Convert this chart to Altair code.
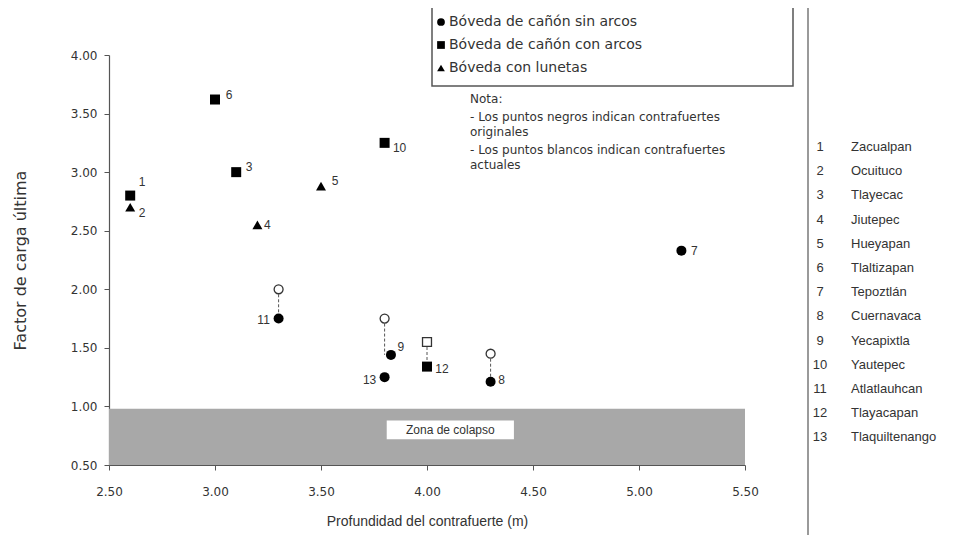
import altair as alt
import pandas as pd

# ---- data ----
ids = [1, 2, 3, 4, 5, 6, 7, 8, 9, 10, 11, 12, 13]
names = ["Zacualpan", "Ocuituco", "Tlayecac", "Jiutepec", "Hueyapan", "Tlaltizapan",
         "Tepoztlán", "Cuernavaca", "Yecapixtla", "Yautepec", "Atlatlauhcan",
         "Tlayacapan", "Tlaquiltenango"]
tipo_names = ["Bóveda de cañón sin arcos", "Bóveda de cañón con arcos", "Bóveda con lunetas"]
tipos = [1, 2, 1, 2, 2, 1, 0, 0, 0, 1, 0, 1, 0]
x_orig = [2.60, 2.60, 3.10, 3.20, 3.50, 3.00, 5.20, 4.30, 3.83, 3.80, 3.30, 4.00, 3.80]
y_orig = [2.80, 2.70, 3.00, 2.55, 2.88, 3.62, 2.33, 1.21, 1.44, 3.25, 1.75, 1.34, 1.25]

act_ids = [8, 9, 11, 12]
x_act = [4.30, 3.80, 3.30, 4.00]
y_act = [1.45, 1.75, 2.00, 1.55]

label_dx = [12, 12, 13, 10, 14, 14, 13, 11, 10, 15, -15, 15, -15]
label_dy = [-14, 6, -5, 0, -5, -5, 0, -2, -8, 5, 1, 2, 3]

nota_lines = ["Nota:", "- Los puntos negros indican contrafuertes", "  originales",
              "- Los puntos blancos indican contrafuertes", "  actuales"]

x_ticks = [2.5, 3.0, 3.5, 4.0, 4.5, 5.0, 5.5]
y_ticks = [0.5, 1.0, 1.5, 2.0, 2.5, 3.0, 3.5, 4.0]

# ---- layout ----
W, H = 636, 410
X0, X1, Y0, Y1 = 2.5, 5.5, 0.5, 4.0
FONT = "Liberation Sans"
WIDE = "DejaVu Sans"
TXT = "#333333"

df = pd.DataFrame({"id": ids, "x": x_orig, "y": y_orig,
                   "tipo": [tipo_names[t] for t in tipos]})
df["lbl"] = df["id"].astype(str)
df["lx"] = df["x"] + pd.Series(label_dx) * (X1 - X0) / W
df["ly"] = df["y"] - pd.Series(label_dy) * (Y1 - Y0) / H

tipo_by_id = dict(zip(ids, [tipo_names[t] for t in tipos]))
yorig_by_id = dict(zip(ids, y_orig))
dfa = pd.DataFrame({"id": act_ids, "x": x_act, "y": y_act,
                    "tipo": [tipo_by_id[i] for i in act_ids],
                    "y0": [yorig_by_id[i] for i in act_ids]})

xs = alt.Scale(domain=[X0, X1], nice=False, zero=False)
ys = alt.Scale(domain=[Y0, Y1], nice=False, zero=False)
shape_scale = alt.Scale(domain=tipo_names, range=["circle", "square", "triangle-up"])

X = alt.X("x:Q", scale=xs, title="Profundidad del contrafuerte (m)",
          axis=alt.Axis(values=x_ticks, format=".2f", grid=False, labelFlush=False))
Y = alt.Y("y:Q", scale=ys, title="Factor de carga última",
          axis=alt.Axis(values=y_ticks, format=".2f", grid=False, labelFlush=False))

band = alt.Chart(pd.DataFrame({"x": [X0], "x2": [X1], "y": [Y0], "y2": [0.98]})).mark_rect(
    color="#a8a8a8").encode(x=X, x2="x2:Q", y=Y, y2="y2:Q")

zona_box = alt.Chart(pd.DataFrame({"x": [3.81], "x2": [4.41], "y": [0.72], "y2": [0.88]})).mark_rect(
    color="white").encode(x=alt.X("x:Q", scale=xs), x2="x2:Q", y=alt.Y("y:Q", scale=ys), y2="y2:Q")
zona_txt = alt.Chart(pd.DataFrame({"x": [4.11], "y": [0.80], "t": ["Zona de colapso"]})).mark_text(
    font=FONT, fontSize=12, color=TXT).encode(x=alt.X("x:Q", scale=xs), y=alt.Y("y:Q", scale=ys), text="t:N")

links = alt.Chart(dfa).mark_rule(color="#555555", strokeWidth=1, strokeDash=[3, 2]).encode(
    x=alt.X("x:Q", scale=xs), y=alt.Y("y:Q", scale=ys), y2="y0:Q")

open_pts = alt.Chart(dfa).mark_point(filled=True, fill="white", stroke="#333333",
                                     strokeWidth=1.3, size=80, opacity=1).encode(
    x=alt.X("x:Q", scale=xs), y=alt.Y("y:Q", scale=ys),
    shape=alt.Shape("tipo:N", scale=shape_scale, legend=None))

pts = alt.Chart(df).mark_point(filled=True, color="black", size=100, opacity=1).encode(
    x=X, y=Y, shape=alt.Shape("tipo:N", scale=shape_scale, legend=None))

labels = alt.Chart(df).mark_text(font=FONT, fontSize=12, color=TXT).encode(
    x=alt.X("lx:Q", scale=xs), y=alt.Y("ly:Q", scale=ys), text="lbl:N")

# legend box (pixel positions relative to plot origin)
leg_box = alt.Chart(pd.DataFrame({"a": [0]})).mark_rect(
    fill="white", stroke="#555555", strokeWidth=1.5).encode(
    x=alt.value(323), x2=alt.value(684), y=alt.value(-51), y2=alt.value(31))
leg_df = pd.DataFrame({"tipo": tipo_names, "row": [0, 1, 2]})
leg_df["py"] = -33 + leg_df["row"] * 23
leg_pts = alt.Chart(leg_df).mark_point(filled=True, color="black", size=60, opacity=1).encode(
    x=alt.value(332), y=alt.Y("py:Q", scale=None),
    shape=alt.Shape("tipo:N", scale=shape_scale, legend=None))
leg_txt = alt.Chart(leg_df).mark_text(font=WIDE, fontSize=14, color=TXT,
                                      align="left", baseline="middle").encode(
    x=alt.value(340), y=alt.Y("py:Q", scale=None), text="tipo:N")

nota_df = pd.DataFrame({"t": nota_lines})
nota_df["py"] = [44, 62, 77, 95, 110]
nota = alt.Chart(nota_df).mark_text(font=WIDE, fontSize=12, color=TXT,
                                    align="left", baseline="middle").encode(
    x=alt.value(361), y=alt.Y("py:Q", scale=None), text="t:N")

vline = alt.Chart(pd.DataFrame({"a": [0]})).mark_rule(color="#9a9a9a", strokeWidth=2).encode(
    x=alt.value(699), y=alt.value(-47), y2=alt.value(480))

names_df = pd.DataFrame({"n": [str(i) for i in ids], "name": names})
names_df["py"] = [92 + 24.2 * k for k in range(len(ids))]
num_txt = alt.Chart(names_df).mark_text(font=FONT, fontSize=13, color=TXT,
                                        align="center", baseline="middle").encode(
    x=alt.value(711), y=alt.Y("py:Q", scale=None), text="n:N")
name_txt = alt.Chart(names_df).mark_text(font=FONT, fontSize=13, color=TXT,
                                         align="left", baseline="middle").encode(
    x=alt.value(742), y=alt.Y("py:Q", scale=None), text="name:N")

chart = alt.layer(
    band, zona_box, zona_txt, links, open_pts, pts, labels,
    leg_box, leg_pts, leg_txt, nota, vline, num_txt, name_txt
).properties(
    width=W, height=H,
    autosize=alt.AutoSizeParams(type="none"),
    padding={"left": 101, "top": 47, "right": 217, "bottom": 70},
).configure_view(stroke=None).configure_axis(
    labelFont=WIDE, labelFontSize=12, labelColor=TXT,
    titleFont=FONT, titleFontSize=14, titleColor=TXT, titleFontWeight="normal",
    domainColor="#555555", tickColor="#555555", tickSize=5, domainWidth=1.2,
).configure_axisX(labelPadding=16, titlePadding=17).configure_axisY(
    labelPadding=7, titlePadding=42, titleFont=WIDE, titleFontSize=16)

chart.save("out.html", embed_options={"renderer": "svg", "actions": False})
